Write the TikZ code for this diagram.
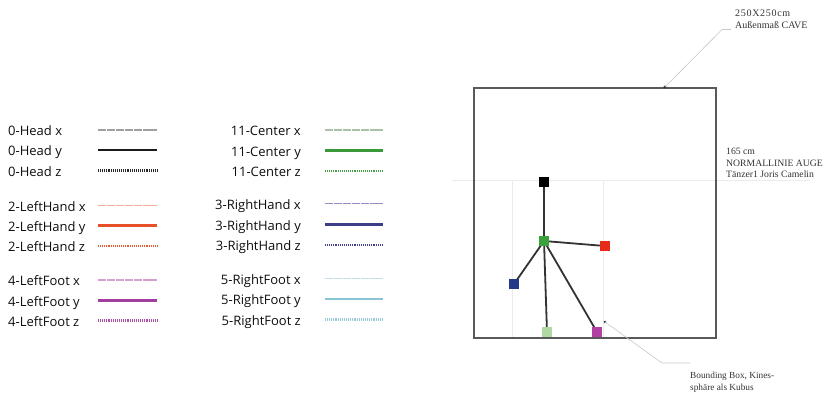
\documentclass[tikz,border=0pt]{standalone}
\usepackage{fontspec}
\setmainfont{Liberation Serif}
\newfontfamily\legfont{Open Sans}
\usetikzlibrary{backgrounds}
\definecolor{headx}{HTML}{A0A0A0}\definecolor{heady}{HTML}{1A1A1A}\definecolor{headz}{HTML}{2A2A2A}
\definecolor{lhx}{HTML}{F2B09C}\definecolor{lhy}{HTML}{E8502A}\definecolor{lhz}{HTML}{EA5A34}
\definecolor{lfx}{HTML}{D69CCE}\definecolor{lfy}{HTML}{A23E9E}\definecolor{lfz}{HTML}{B050AC}
\definecolor{cx}{HTML}{AAC2AA}\definecolor{cy}{HTML}{3A9A3A}\definecolor{cz}{HTML}{46A046}
\definecolor{rhx}{HTML}{9290C2}\definecolor{rhy}{HTML}{3C3C88}\definecolor{rhz}{HTML}{40408C}
\definecolor{rfx}{HTML}{C2E0E6}\definecolor{rfy}{HTML}{88C4D4}\definecolor{rfz}{HTML}{98CCDA}
\definecolor{sqgreen}{HTML}{3AA23A}\definecolor{sqred}{HTML}{E82A1A}\definecolor{sqblue}{HTML}{24388A}
\definecolor{sqlight}{HTML}{B2D8A2}\definecolor{sqmag}{HTML}{B040A2}
\begin{document}
\begin{tikzpicture}[x=1pt,y=-1pt,
  leg/.style={font=\legfont\fontsize{13}{15}\selectfont, text=black!95, inner sep=0},
  lxs/.style={line width=1.7pt, dash pattern=on 8pt off 0.9pt},
  lys/.style={line width=2.6pt},
  lzs/.style={line width=2.2pt, dash pattern=on 1pt off 0.9pt},
  sq/.style={minimum size=10pt, inner sep=0, draw=none},
  bone/.style={line width=1.8pt, draw=black!80},
  faint/.style={line width=0.8pt, draw=black!8},
  leader/.style={line width=0.6pt, draw=black!22},
  note/.style={font=\fontsize{10}{12}\selectfont, text=black!80, inner sep=0, anchor=base west}]
\useasboundingbox (0,0) rectangle (824,396);
% legend, left column
\foreach \y/\t/\c/\s in {130/0-Head x/headx/lxs, 150/0-Head y/heady/lys, 170.5/0-Head z/headz/lzs,
  205.5/2-LeftHand x/lhx/lxs, 225.5/2-LeftHand y/lhy/lys, 246/2-LeftHand z/lhz/lzs,
  280/4-LeftFoot x/lfx/lxs, 300.5/4-LeftFoot y/lfy/lys, 320.5/4-LeftFoot z/lfz/lzs}{
  \node[leg, anchor=base west] at (8,\y+5.5) {\t};
  \draw[\s, draw=\c] (98,\y) -- (157,\y);
}
% legend, right column
\foreach \y/\t/\c/\s in {130/11-Center x/cx/lxs, 150.5/11-Center y/cy/lys, 171/11-Center z/cz/lzs,
  203.5/3-RightHand x/rhx/lxs, 224.5/3-RightHand y/rhy/lys, 245/3-RightHand z/rhz/lzs,
  278.5/5-RightFoot x/rfx/lxs, 299/5-RightFoot y/rfy/lys, 319.5/5-RightFoot z/rfz/lzs}{
  \node[leg, anchor=base east] at (301,\y+5.5) {\t};
  \draw[\s, draw=\c] (325,\y) -- (383,\y);
}
% faint guide lines
\draw[faint] (452,180.5) -- (810,180.5);
\draw[faint] (512,180.5) -- (512,337);
\draw[faint] (603,180.5) -- (603,337);
% CAVE box
\node[draw=black!65, line width=1.6pt, inner sep=0, minimum width=242pt, minimum height=250pt, anchor=north west] (cave) at (473,87) {};
% skeleton
\node[sq, fill=black] (head) at (544,182) {};
\node[sq, fill=sqgreen] (center) at (544,241) {};
\node[sq, fill=sqred] (lhand) at (605,246) {};
\node[sq, fill=sqblue] (rhand) at (514,284) {};
\node[sq, fill=sqlight] (rfoot) at (547,332) {};
\node[sq, fill=sqmag] (lfoot) at (597,332) {};
\begin{pgfonlayer}{background}
\draw[bone] (center.center) -- (head.center);
\draw[bone] (center.center) -- (lhand.center);
\draw[bone] (center.center) -- (rhand.center);
\draw[bone] (center.center) -- (rfoot.center);
\draw[bone] (center.center) -- (lfoot.center);
\end{pgfonlayer}
% annotations
\coordinate (a1) at (665,87);
\fill[black!80] (a1) circle (1.6pt);
\draw[leader] (a1) -- (722,29.5) coordinate (a1k) -- (731,29.5) coordinate (a1e);
\node[note, font=\fontsize{10}{12}\addfontfeature{LetterSpace=7}\selectfont] (t1a) at (735,16.5) {250X250cm};
\node[note] (t1b) at (735,28.5) {Außenmaß CAVE};
\node[note, font=\fontsize{9.7}{11}\selectfont] (t2a) at (726,154.5) {165 cm};
\node[note, font=\fontsize{9.7}{11}\selectfont] (t2b) at (726,166) {NORMALLINIE AUGE};
\node[note, font=\fontsize{9.7}{11}\selectfont] (t2c) at (726,177.2) {Tänzer1 Joris Camelin};
\coordinate (a3) at (605,322);
\fill[black!80] (a3) circle (1.3pt);
\draw[leader] (a3) -- (662,363) coordinate (a3k) -- (690,363) coordinate (a3e);
\node[note, font=\fontsize{9.3}{11}\selectfont] (t3a) at (690,378) {Bounding Box, Kines-};
\node[note, font=\fontsize{9.3}{11}\selectfont] (t3b) at (690,390.5) {sphäre als Kubus};
\end{tikzpicture}
\end{document}
